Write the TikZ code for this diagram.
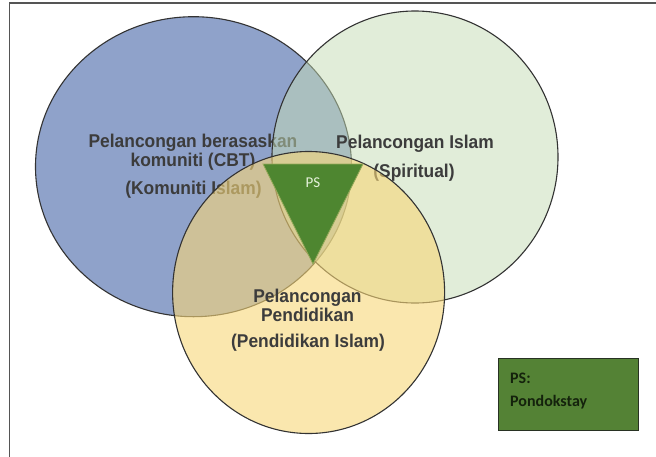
\documentclass[tikz,border=0pt]{standalone}
\usepackage{fontspec}
\newfontfamily\vennfont{Liberation Sans Bold}[FakeStretch=0.94]
\newfontfamily\calfont{Carlito}
\definecolor{bluefill}{HTML}{8FA2CA}
\definecolor{greenfill}{HTML}{C5DDB5}
\definecolor{yellowfill}{HTML}{F8D778}
\definecolor{outline}{HTML}{333333}
\definecolor{vtext}{HTML}{3C3C3C}
\definecolor{psgreen}{HTML}{4E8630}
\definecolor{legendgreen}{HTML}{548235}
\definecolor{legendtext}{HTML}{14220C}
\definecolor{frame}{HTML}{555555}
\tikzset{
  circ/.style={draw=outline, line width=1.1pt},
  venntext/.style={font=\vennfont\fontsize{18.5}{19}\selectfont, text=vtext, align=center, inner sep=0pt},
  legtext/.style={font=\calfont\bfseries\fontsize{16}{18}\selectfont, text=legendtext, anchor=west, inner sep=0pt}
}
\begin{document}
\begin{tikzpicture}[x=1pt, y=-1pt]
\useasboundingbox (0,0) rectangle (656,456);
\fill[white] (0,0) rectangle (656,456);
\draw[frame, line width=1.2pt] (9.5,470) -- (9.5,3) -- (670,3);
% blue circle
\fill[bluefill] (193.5,166.7) ellipse [x radius=158, y radius=150];
\draw[circ] (193.5,166.7) ellipse [x radius=158, y radius=150];
\node[venntext] (cbt) at (193,152.5) {Pelancongan berasaskan\\komuniti (CBT)};
\node[venntext] (ki) at (193.5,190) {(Komuniti Islam)};
% green circle
\fill[greenfill, fill opacity=0.5] (415,157) ellipse [x radius=143, y radius=146];
\draw[circ] (415,157) ellipse [x radius=143, y radius=146];
\node[venntext] (gi) at (415,144) {Pelancongan Islam};
\node[venntext] (sp) at (414,173) {(Spiritual)};
% yellow circle
\fill[yellowfill, fill opacity=0.6] (308.6,292.5) ellipse [x radius=136, y radius=141];
\draw[circ] (308.6,292.5) ellipse [x radius=136, y radius=141];
% PS triangle
\fill[psgreen, draw={rgb,255:red,150;green,170;blue,90}, line width=0.8pt] (263,164) -- (363,164) -- (313,264) -- cycle;
\node[font=\calfont\fontsize{15}{17}\selectfont, text={rgb,255:red,230;green,242;blue,220}, inner sep=0pt] (ps) at (313,183) {PS};
\node[venntext] (pp) at (307.5,305.5) {Pelancongan\\Pendidikan};
\node[venntext] (pi) at (308,343) {(Pendidikan Islam)};
% legend
\node[draw={rgb,255:red,40;green,50;blue,35}, line width=1pt, fill=legendgreen, anchor=north west, minimum width=140pt, minimum height=72pt, inner sep=0pt] (legend) at (498,358) {};
\node[legtext] (lps) at (510,378) {PS:};
\node[legtext] (lpond) at (510,402) {Pondokstay};
\end{tikzpicture}
\end{document}
